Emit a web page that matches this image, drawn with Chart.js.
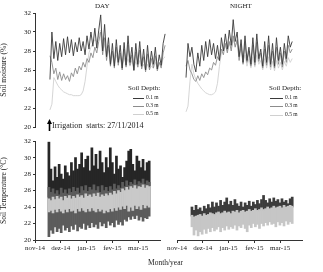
<!DOCTYPE html>
<html><head><meta charset="utf-8">
<script src="https://cdn.jsdelivr.net/npm/chart.js@4.4.1/dist/chart.umd.min.js"></script>
<style>
html,body{margin:0;padding:0;background:#fff}
body{width:323px;height:272px;overflow:hidden;position:relative}
canvas{position:absolute}
.t{position:absolute;white-space:nowrap;font-family:"Liberation Serif",serif;color:#222;line-height:1}
.ln{position:absolute;height:1px}
</style></head><body>
<canvas id="tl" width="170" height="135" style="left:0;top:0;width:170px;height:135px"></canvas>
<canvas id="tr" width="163" height="135" style="left:160px;top:0;width:163px;height:135px"></canvas>
<canvas id="bl" width="170" height="137" style="left:0;top:135px;width:170px;height:137px"></canvas>
<canvas id="br" width="163" height="137" style="left:160px;top:135px;width:163px;height:137px"></canvas>

<div class="t" style="left:95px;top:3px;font-size:7px">DAY</div>
<div class="t" style="left:230px;top:3px;font-size:7px">NIGHT</div>

<div class="t" style="left:128px;top:85px;font-size:7px">Soil Depth:</div>
<div class="ln" style="left:133px;top:98px;width:11px;background:#3a3a3a"></div>
<div class="ln" style="left:133px;top:106px;width:11px;background:#8c8c8c"></div>
<div class="ln" style="left:133px;top:114px;width:11px;background:#d0d0d0"></div>
<div class="t" style="left:146px;top:95px;font-size:5.5px">0.1 m</div>
<div class="t" style="left:146px;top:103px;font-size:5.5px">0.3 m</div>
<div class="t" style="left:146px;top:111px;font-size:5.5px">0.5 m</div>

<div class="t" style="left:269px;top:85px;font-size:7px">Soil Depth:</div>
<div class="ln" style="left:270px;top:98px;width:13px;background:#3a3a3a"></div>
<div class="ln" style="left:270px;top:106px;width:13px;background:#8c8c8c"></div>
<div class="ln" style="left:270px;top:115px;width:13px;background:#d0d0d0"></div>
<div class="t" style="left:285px;top:95px;font-size:5.5px">0.1 m</div>
<div class="t" style="left:285px;top:103px;font-size:5.5px">0.3 m</div>
<div class="t" style="left:285px;top:112px;font-size:5.5px">0.5 m</div>

<div class="t" style="left:52px;top:122px;font-size:8px">Irrigation&nbsp; starts: 27/11/2014</div>
<div class="t" style="left:148px;top:259px;font-size:7.5px">Month/year</div>

<script>
// ---- tick labels / categories ----
const monthLabels = ['nov-14','dez-14','jan-15','fev-15','mar-15'];
const depthLabels = ['0.1 m','0.3 m','0.5 m'];
const irrigationMonth = 0.54; // 27/11/2014 position on month axis

// ---- sampling spans (month units, from nov-14) ----
const dayMoistSpan = [0.58, 5.05];
const nightMoistSpan = [0.35, 4.47];
const dayTempSpan = [0.54, 4.43];
const nightTempSpan = [0.58, 4.47];

// ---- Soil moisture (%) DAY ----
const moistDay01 = [25.0,30.0,27.2,29.0,27.0,28.8,27.4,29.3,27.6,29.5,27.8,29.2,27.5,28.9,27.9,29.4,28.0,29.0,27.6,29.6,28.2,30.0,28.5,30.4,28.3,30.2,31.8,28.0,30.8,27.4,29.4,26.6,28.8,26.4,29.2,26.8,28.6,26.2,28.9,26.5,29.6,26.8,28.4,26.0,28.8,26.6,29.0,26.4,28.2,26.0,28.6,26.3,28.0,26.6,28.4,26.1,27.6,26.5,28.8,29.8];
const moistDay03 = [27.5,26.8,25.6,26.2,25.0,25.8,24.9,25.6,25.0,25.4,24.8,25.7,25.3,26.2,25.6,26.4,26.0,26.8,26.3,27.2,26.8,27.8,27.3,28.4,27.8,29.0,30.0,27.6,29.4,27.0,28.6,26.4,28.0,26.2,28.4,26.5,27.8,26.0,28.2,26.3,28.6,26.5,27.6,25.9,27.9,26.3,28.1,26.1,27.4,25.8,27.7,26.0,27.2,26.2,27.5,25.9,26.8,26.2,27.8,28.6];
const moistDay05 = [21.8,22.4,25.2,24.8,24.4,24.1,23.9,23.7,23.6,23.5,23.4,23.4,23.3,23.3,23.3,23.3,23.4,23.8,24.8,26.4,27.8,28.4,28.8,29.2,29.0,29.6,30.2,29.0,28.6,27.8,28.2,27.2,27.8,26.8,27.6,26.9,27.4,26.5,27.3,26.6,27.2,26.4,27.0,26.2,26.9,26.3,27.0,26.2,26.6,26.0,26.6,26.1,26.4,26.2,26.8,26.3,26.7,26.5,27.2,27.4];

// ---- Soil moisture (%) NIGHT ----
const moistNight01 = [25.2,28.8,27.4,28.4,26.6,25.8,27.8,26.4,28.6,27.0,29.0,27.4,29.2,27.6,28.8,27.2,28.6,27.0,29.4,28.0,29.8,28.2,30.2,28.6,31.3,29.0,30.0,27.4,29.2,26.8,29.6,27.0,28.4,26.6,29.4,26.8,29.8,27.2,28.2,26.4,29.0,26.8,29.6,26.6,28.8,26.4,29.4,27.0,28.4,26.6,28.8,27.2,29.6,28.4,29.0];
const moistNight03 = [26.4,27.0,26.0,25.6,25.0,24.8,25.4,24.9,25.6,25.2,25.8,25.5,26.2,26.0,26.8,26.5,27.4,27.0,28.2,27.6,28.8,27.8,29.0,28.0,29.6,28.4,29.2,27.0,28.6,26.6,28.8,26.8,28.0,26.4,28.6,26.5,28.9,26.9,27.8,26.2,28.2,26.5,28.6,26.3,28.0,26.2,28.4,26.6,27.8,26.3,28.0,26.8,28.6,27.8,28.2];
const moistNight05 = [21.6,22.2,24.8,26.6,25.6,25.0,24.6,24.3,24.0,23.8,23.6,23.5,23.4,23.4,23.5,23.7,24.6,26.4,27.8,28.2,28.6,28.0,28.8,28.3,29.2,28.5,29.0,27.6,28.2,26.8,27.6,26.4,27.2,26.2,27.4,26.3,27.6,26.6,27.0,26.0,27.2,26.2,27.4,26.0,26.9,25.9,27.0,26.2,26.8,26.0,26.9,26.4,27.3,26.8,27.2];

// ---- Soil temperature (°C) DAY: ranges (low / high) ----
const tempDay01Hi = [31.9,28.6,27.2,28.9,27.6,29.2,28.0,27.4,29.0,28.2,27.8,29.4,28.4,30.0,28.6,29.2,30.6,28.8,29.8,30.2,28.4,31.2,29.0,30.4,28.6,30.8,29.4,28.2,30.0,28.8,31.2,29.4,28.0,30.2,28.6,29.0,27.6,28.8,29.6,30.8,31.0,29.2,28.4,30.2,29.6,28.8,29.8,28.4,29.4,29.6];
const tempDay01Lo = [25.2,25.0,25.4,24.9,25.3,25.1,25.5,25.0,25.4,25.2,25.6,25.1,25.5,25.3,25.7,25.2,25.6,25.4,25.8,25.3,25.6,25.4,25.8,25.5,25.9,25.4,25.7,25.3,25.6,25.5,25.8,25.4,25.9,25.6,26.0,25.7,26.1,25.8,26.2,26.0,26.3,26.1,26.4,26.2,26.5,26.3,26.6,26.4,26.5,26.6];
const tempDay03Hi = [26.4,25.8,26.2,25.6,26.0,25.5,26.3,25.7,26.1,25.6,26.2,25.8,26.4,25.9,26.3,25.7,26.5,26.0,26.6,25.9,26.4,26.1,26.7,26.0,26.5,25.8,26.6,26.0,26.4,25.9,26.5,26.1,26.8,26.2,26.6,26.3,27.0,26.5,27.2,26.6,27.0,26.8,27.3,26.7,27.1,26.9,27.4,26.8,27.2,27.0];
const tempDay03Lo = [20.4,21.2,20.8,21.6,21.0,21.4,20.9,21.8,21.2,21.5,21.0,21.7,21.3,21.9,21.1,21.6,21.4,22.0,21.3,21.8,21.5,22.1,21.6,21.9,21.4,22.2,21.7,22.0,21.5,22.3,21.8,22.1,21.6,22.4,21.9,22.2,21.8,22.5,22.3,22.8,22.5,22.9,22.6,23.0,22.4,22.8,22.3,22.7,22.6,22.9];
const tempDay05Hi = [25.0,24.8,25.2,24.9,25.3,25.0,25.2,24.8,25.3,25.1,25.4,25.0,25.3,25.1,25.5,25.2,25.4,25.1,25.6,25.3,25.5,25.2,25.6,25.3,25.7,25.2,25.5,25.3,25.6,25.4,25.7,25.5,25.9,25.6,26.0,25.8,26.2,26.0,26.4,26.1,26.5,26.3,26.6,26.2,26.5,26.4,26.7,26.3,26.6,26.5];
const tempDay05Lo = [23.4,23.6,23.3,23.7,23.4,23.8,23.5,23.3,23.7,23.4,23.8,23.5,23.6,23.3,23.8,23.5,23.9,23.6,23.4,23.8,23.5,23.9,23.6,23.4,23.8,23.5,23.7,23.3,23.6,23.4,23.8,23.5,23.9,23.6,24.0,23.7,24.1,23.8,24.2,23.5,24.0,23.6,24.2,23.8,24.1,23.7,24.3,23.9,24.2,24.0];

// ---- Soil temperature (°C) NIGHT ----
const tempNightUpperHi = [24.0,23.6,24.2,23.7,23.9,23.5,24.1,23.8,24.3,23.9,24.6,24.0,24.5,24.1,24.8,24.2,24.6,25.1,24.3,24.7,24.2,24.9,24.4,24.1,24.6,24.0,24.5,24.2,24.7,24.1,24.6,24.3,24.8,24.4,24.9,25.4,24.8,24.5,25.0,24.6,25.1,24.7,24.9,24.5,25.0,24.6,24.8,24.4,25.0,25.2];
const tempNightUpperLo = [22.9,22.7,22.8,22.9,23.0,22.8,23.1,22.9,23.0,23.2,23.1,23.0,23.2,23.3,23.1,23.2,23.4,23.2,23.3,23.1,23.4,23.3,23.5,23.2,23.4,23.5,23.3,23.4,23.6,23.4,23.5,23.7,23.5,23.6,23.8,23.6,23.7,23.9,23.7,23.8,24.0,23.8,23.9,24.0,23.8,24.1,23.9,24.0,24.1,24.0];
const tempNightLowerHi = [23.0,22.8,22.9,23.0,23.1,22.9,23.2,23.0,23.1,23.3,23.2,23.1,23.3,23.4,23.2,23.3,23.5,23.3,23.4,23.2,23.5,23.4,23.6,23.3,23.5,23.6,23.4,23.5,23.7,23.5,23.6,23.8,23.6,23.7,23.9,23.7,23.8,24.0,23.8,23.9,24.1,23.9,24.0,24.1,23.9,24.2,24.0,24.1,24.2,24.1];
const tempNightLowerLo = [21.6,20.6,21.2,20.5,21.0,20.7,21.3,20.8,21.4,21.0,21.5,21.1,21.3,21.6,21.0,21.5,21.2,21.7,21.3,21.6,21.4,21.8,21.2,21.7,21.5,21.9,21.4,21.0,21.8,21.5,22.0,21.6,21.9,21.4,22.0,21.7,22.1,21.8,22.2,21.9,22.0,21.6,22.2,21.8,22.1,21.7,22.3,21.9,22.2,22.0];

// ---- helpers ----
const FONT = '"Liberation Serif", serif';
const C1 = '#3a3a3a', C3 = '#8c8c8c', C5 = '#d0d0d0';
function pts(vals, span){ const n = vals.length; return vals.map((v,i)=>({x: span[0]+(span[1]-span[0])*i/(n-1), y: v})); }
function rng(lo, hi, span){ const n = lo.length; return lo.map((v,i)=>({x: span[0]+(span[1]-span[0])*i/(n-1), y: [v, hi[i]]})); }
function lineDs(label, vals, span, color, order){
  return {type:'line', label, data: pts(vals, span), borderColor: color, borderWidth: 0.9, pointRadius: 0, tension: 0, fill: false, order};
}
function barDs(label, lo, hi, span, color, order){
  return {type:'bar', label, data: rng(lo, hi, span), backgroundColor: color, borderWidth: 0, grouped: false, barPercentage: 1, categoryPercentage: 1, order};
}
const baseOpts = {responsive:false, animation:false, devicePixelRatio:1, plugins:{legend:{display:false}, tooltip:{enabled:false}}};

function yAxis(title, show){
  const ax = {type:'linear', min:20, max:32, display: show,
    ticks:{stepSize:2, font:{family:FONT, size:7}, color:'#222', padding:2},
    grid:{drawOnChartArea:false, tickLength:2, color:'#333'},
    border:{display:true, color:'#333', width:1},
    title:{display:true, text:title, font:{family:FONT, size:7.5}, color:'#222', padding:{top:0,bottom:2}}};
  if (show) ax.afterFit = (s)=>{ s.width = 35; };
  return ax;
}
function xAxis(max, show){
  const ax = {type:'linear', min:0, max, display: show, offset:false,
    ticks:{stepSize:1, includeBounds:false, autoSkip:false, maxRotation:0, font:{family:FONT, size:7}, color:'#222', padding:1,
      callback:(v)=> Number.isInteger(v) && monthLabels[v] ? monthLabels[v] : ''},
    grid:{drawOnChartArea:false, tickLength:3, color:'#333', offset:false},
    border:{display:true, color:'#333', width:1}};
  if (show) ax.afterFit = (s)=>{ s.height = 32; };
  return ax;
}

const arrowPlugin = {id:'arrow', afterDatasetsDraw(chart){
  const ctx = chart.ctx, x = Math.round(chart.scales.x.getPixelForValue(irrigationMonth)) + 0.5;
  ctx.save(); ctx.strokeStyle = '#000'; ctx.fillStyle = '#000'; ctx.lineWidth = 1.6;
  ctx.beginPath(); ctx.moveTo(x, 131); ctx.lineTo(x, 123); ctx.stroke();
  ctx.beginPath(); ctx.moveTo(x-2.5, 124); ctx.lineTo(x+2.5, 124); ctx.lineTo(x, 119); ctx.closePath(); ctx.fill();
  ctx.restore();
}};

// Top-left: moisture DAY
new Chart(document.getElementById('tl'), {
  data:{datasets:[
    lineDs(depthLabels[0], moistDay01, dayMoistSpan, C1, 1),
    lineDs(depthLabels[1], moistDay03, dayMoistSpan, C3, 2),
    lineDs(depthLabels[2], moistDay05, dayMoistSpan, C5, 3)]},
  options:{...baseOpts, layout:{padding:{top:13,bottom:8,left:0,right:0}},
    scales:{x: xAxis(5.24, false), y: yAxis('Soil moisture (%)', true)}},
  plugins:[arrowPlugin]
});

// Top-right: moisture NIGHT
new Chart(document.getElementById('tr'), {
  data:{datasets:[
    lineDs(depthLabels[0], moistNight01, nightMoistSpan, C1, 1),
    lineDs(depthLabels[1], moistNight03, nightMoistSpan, C3, 2),
    lineDs(depthLabels[2], moistNight05, nightMoistSpan, C5, 3)]},
  options:{...baseOpts, layout:{padding:{top:13,bottom:8,left:17,right:21}},
    scales:{x: xAxis(4.85, false), y: yAxis('', false)}}
});

// Bottom-left: temperature DAY
new Chart(document.getElementById('bl'), {
  data:{datasets:[
    barDs(depthLabels[0], tempDay01Lo, tempDay01Hi, dayTempSpan, '#262626', 3),
    barDs(depthLabels[1], tempDay03Lo, tempDay03Hi, dayTempSpan, '#5c5c5c', 2),
    barDs(depthLabels[2], tempDay05Lo, tempDay05Hi, dayTempSpan, '#c9c9c9', 1)]},
  options:{...baseOpts, layout:{padding:{top:6,bottom:0,left:0,right:10}},
    scales:{x: xAxis(4.85, true), y: yAxis('Soil Temperature (°C)', true)}}
});

// Bottom-right: temperature NIGHT
new Chart(document.getElementById('br'), {
  data:{datasets:[
    barDs('upper', tempNightUpperLo, tempNightUpperHi, nightTempSpan, '#3c3c3c', 2),
    barDs('lower', tempNightLowerLo, tempNightLowerHi, nightTempSpan, '#c6c6c6', 1)]},
  options:{...baseOpts, layout:{padding:{top:6,bottom:0,left:17,right:21}},
    scales:{x: xAxis(4.85, true), y: yAxis('', false)}}
});
</script>
</body></html>
